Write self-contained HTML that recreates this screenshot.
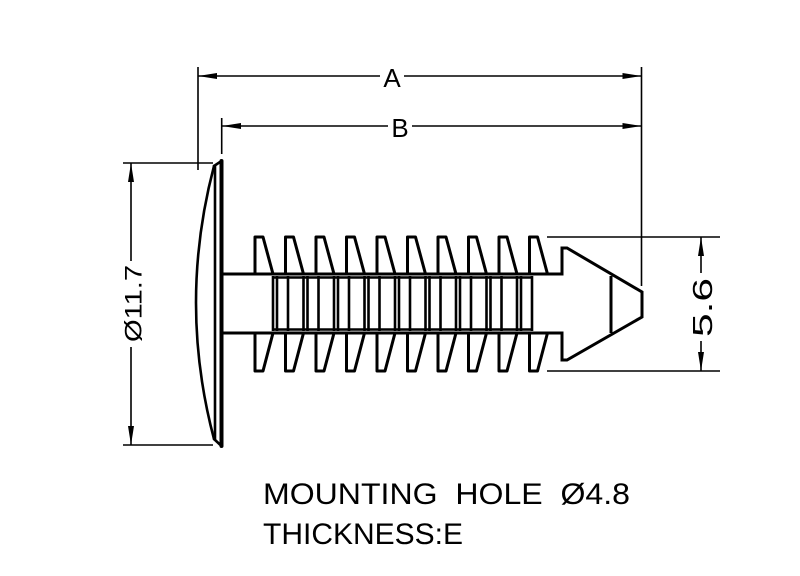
<!DOCTYPE html>
<html>
<head>
<meta charset="utf-8">
<style>
html,body{margin:0;padding:0;background:#fff;}
svg{display:block;}
text{font-family:"Liberation Sans","DejaVu Sans",sans-serif;fill:#000;}
</style>
</head>
<body>
<svg width="800" height="576" viewBox="0 0 800 576" xmlns="http://www.w3.org/2000/svg">
<rect width="800" height="576" fill="#fff"/>

<!-- Dimension A -->
<g stroke="#000" stroke-width="1.6" fill="none">
  <line x1="198" y1="67" x2="198" y2="170"/>
  <line x1="641.5" y1="67" x2="641.5" y2="286"/>
  <line x1="198" y1="76" x2="380" y2="76"/>
  <line x1="404" y1="76" x2="641.5" y2="76"/>
  <!-- B -->
  <line x1="221.7" y1="118" x2="221.7" y2="154"/>
  <line x1="222" y1="126" x2="388" y2="126"/>
  <line x1="412" y1="126" x2="641.5" y2="126"/>
  <!-- dia 11.7 -->
  <line x1="123" y1="163" x2="213" y2="163"/>
  <line x1="123" y1="445" x2="213" y2="445"/>
  <line x1="131" y1="163" x2="131" y2="261"/>
  <line x1="131" y1="347" x2="131" y2="445"/>
  <!-- 5.6 -->
  <line x1="547" y1="237" x2="720" y2="237"/>
  <line x1="547" y1="371" x2="720" y2="371"/>
  <line x1="701" y1="237" x2="701" y2="273"/>
  <line x1="701" y1="341" x2="701" y2="371"/>
</g>
<g fill="#000">
  <polygon points="198,76 217,73 217,79"/>
  <polygon points="641.5,76 622.5,73 622.5,79"/>
  <polygon points="222,126 241,123 241,129"/>
  <polygon points="641.5,126 622.5,123 622.5,129"/>
  <polygon points="131,163 128,182 134,182"/>
  <polygon points="131,445 128,426 134,426"/>
  <polygon points="701,237 698,256 704,256"/>
  <polygon points="701,371 698,352 704,352"/>
</g>

<text x="392" y="87" font-size="26" text-anchor="middle">A</text>
<text x="400" y="137" font-size="26" text-anchor="middle">B</text>

<text transform="rotate(-90 133 303.5)" x="133" y="312" font-size="24" text-anchor="middle" textLength="77" lengthAdjust="spacingAndGlyphs">Ø11.7</text>
<text transform="rotate(-90 702 307.5)" x="702" y="317.5" font-size="28" text-anchor="middle" textLength="59" lengthAdjust="spacingAndGlyphs">5.6</text>

<!-- Head -->
<g stroke="#000" fill="none" stroke-linejoin="round" stroke-linecap="round">
  <path d="M214,166 Q178,303 214,439" stroke-width="2.6"/>
  <line x1="215" y1="166" x2="215" y2="439" stroke-width="2.6"/>
  <line x1="221.5" y1="161" x2="221.5" y2="446" stroke-width="4"/>
  <line x1="214" y1="166" x2="221.5" y2="161" stroke-width="2.6"/>
  <line x1="214" y1="439" x2="221.5" y2="446" stroke-width="2.6"/>
</g>

<!-- Shaft and cone -->
<g stroke="#000" fill="none" stroke-width="3" stroke-linejoin="miter">
  <path d="M223,274 H562 V248 H567 L642,292 V317 L567,360 H562 V333 H223"/>
  <line x1="611" y1="276" x2="611" y2="333"/>
</g>
<g stroke="#000" fill="none" stroke-width="2.4">
  <line x1="273" y1="277.5" x2="532" y2="277.5"/>
  <line x1="273" y1="329.5" x2="532" y2="329.5"/>
</g>

<!-- Fins -->
<g stroke="#000" fill="none" stroke-width="3" stroke-linejoin="round">
  <path d="M255,274 V237 H263 L273,274 M255,333 V371 H263 L273,333"/>
  <path d="M285.5,274 V237 H293.5 L303.5,274 M285.5,333 V371 H293.5 L303.5,333"/>
  <path d="M316,274 V237 H324 L334,274 M316,333 V371 H324 L334,333"/>
  <path d="M346.5,274 V237 H354.5 L364.5,274 M346.5,333 V371 H354.5 L364.5,333"/>
  <path d="M377,274 V237 H385 L395,274 M377,333 V371 H385 L395,333"/>
  <path d="M407.5,274 V237 H415.5 L425.5,274 M407.5,333 V371 H415.5 L425.5,333"/>
  <path d="M438,274 V237 H446 L456,274 M438,333 V371 H446 L456,333"/>
  <path d="M468.5,274 V237 H476.5 L486.5,274 M468.5,333 V371 H476.5 L486.5,333"/>
  <path d="M499,274 V237 H507 L517,274 M499,333 V371 H507 L517,333"/>
  <path d="M529.5,274 V237 H537.5 L547.5,274 M529.5,333 V371 H537.5 L547.5,333"/>
</g>

<!-- Inner ribs -->
<g stroke="#000" stroke-width="2.6">
  <line x1="273" y1="276" x2="273" y2="331"/><line x1="277" y1="276" x2="277" y2="331"/><line x1="288" y1="276" x2="288" y2="331"/>
  <line x1="303.5" y1="276" x2="303.5" y2="331"/><line x1="307.5" y1="276" x2="307.5" y2="331"/><line x1="318.5" y1="276" x2="318.5" y2="331"/>
  <line x1="334" y1="276" x2="334" y2="331"/><line x1="338" y1="276" x2="338" y2="331"/><line x1="349" y1="276" x2="349" y2="331"/>
  <line x1="364.5" y1="276" x2="364.5" y2="331"/><line x1="368.5" y1="276" x2="368.5" y2="331"/><line x1="379.5" y1="276" x2="379.5" y2="331"/>
  <line x1="395" y1="276" x2="395" y2="331"/><line x1="399" y1="276" x2="399" y2="331"/><line x1="410" y1="276" x2="410" y2="331"/>
  <line x1="425.5" y1="276" x2="425.5" y2="331"/><line x1="429.5" y1="276" x2="429.5" y2="331"/><line x1="440.5" y1="276" x2="440.5" y2="331"/>
  <line x1="456" y1="276" x2="456" y2="331"/><line x1="460" y1="276" x2="460" y2="331"/><line x1="471" y1="276" x2="471" y2="331"/>
  <line x1="486.5" y1="276" x2="486.5" y2="331"/><line x1="490.5" y1="276" x2="490.5" y2="331"/><line x1="501.5" y1="276" x2="501.5" y2="331"/>
  <line x1="517" y1="276" x2="517" y2="331"/><line x1="521" y1="276" x2="521" y2="331"/><line x1="532" y1="276" x2="532" y2="331"/>
</g>

<!-- Notes -->
<text x="263" y="504" font-size="30" textLength="367" lengthAdjust="spacingAndGlyphs" xml:space="preserve">MOUNTING  HOLE  Ø4.8</text>
<text x="263" y="544" font-size="30" textLength="200" lengthAdjust="spacingAndGlyphs">THICKNESS:E</text>
</svg>
</body>
</html>
